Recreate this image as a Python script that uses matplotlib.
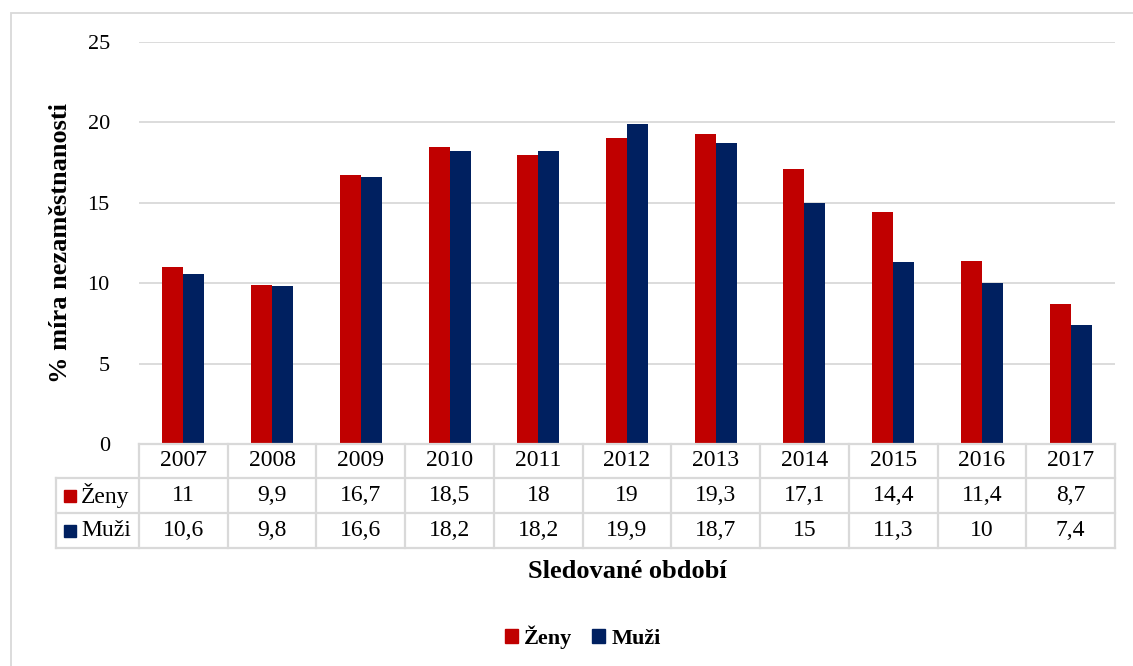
import matplotlib
matplotlib.use("Agg")
import matplotlib.pyplot as plt
import matplotlib.transforms as mtransforms
from matplotlib.patches import Rectangle
import numpy as np

# data
years = ["2007", "2008", "2009", "2010", "2011", "2012", "2013", "2014", "2015", "2016", "2017"]
zeny = [11, 9.9, 16.7, 18.5, 18, 19, 19.3, 17.1, 14.4, 11.4, 8.7]
muzi = [10.6, 9.8, 16.6, 18.2, 18.2, 19.9, 18.7, 15, 11.3, 10, 7.4]
series_names = ["Ženy", "Muži"]
yticks = [0, 5, 10, 15, 20, 25]

RED = "#C00000"
NAVY = "#002060"
GRID = "#D9D9D9"

plt.rcParams["font.family"] = ["Liberation Serif", "DejaVu Serif"]

W, H = 1133, 666
fig = plt.figure(figsize=(W / 100, H / 100), dpi=100)

# outer chart border (light grey, open on the right/bottom)
fig.patches.append(Rectangle((11 / W, -0.2), 2, 1.2 - 13 / H, transform=fig.transFigure,
                             fill=False, edgecolor=GRID, lw=1.3))

ax = fig.add_axes([139 / W, 1 - 444 / H, (1115 - 139) / W, (444 - 42) / H])

x = np.arange(len(years))
bw = 0.237
ax.bar(x - bw / 2, zeny, bw, color=RED, zorder=3)
ax.bar(x + bw / 2, muzi, bw, color=NAVY, zorder=3)

ax.set_xlim(-0.5, len(years) - 0.5)
ax.set_ylim(0, 25)
ax.set_yticks(yticks)
ax.set_yticklabels([str(v) for v in yticks], fontsize=16)
ax.tick_params(axis="y", length=0, pad=21)
ax.set_xticks([])
for s in ax.spines.values():
    s.set_visible(False)
ax.yaxis.grid(True, color=GRID, lw=1.3, zorder=0)

# data table under the axis
tr = mtransforms.blended_transform_factory(ax.transData, ax.transAxes)
ppx = 402.0  # axes height in px
rows = [0, -34 / ppx, -69 / ppx, -104 / ppx]
label_left = -0.5 - (139 - 56) / 88.7
right = len(years) - 0.5
lkw = dict(color=GRID, lw=1.6, transform=tr, clip_on=False, zorder=4, solid_capstyle="projecting")

ax.plot([-0.5, right], [rows[0], rows[0]], **lkw)
for r in rows[1:]:
    ax.plot([label_left, right], [r, r], **lkw)
for i in range(len(years) + 1):
    ax.plot([i - 0.5, i - 0.5], [rows[0], rows[3]], **lkw)
ax.plot([label_left, label_left], [rows[1], rows[3]], **lkw)

TFS = 17
ymid = [(rows[k] + rows[k + 1]) / 2 for k in range(3)]
for i, yr in enumerate(years):
    ax.text(i, ymid[0], yr, transform=tr, ha="center", va="center", fontsize=TFS)
    ax.text(i, ymid[1], f"{zeny[i]:g}".replace(".", ","), transform=tr,
            ha="center", va="center", fontsize=TFS)
    ax.text(i, ymid[2], f"{muzi[i]:g}".replace(".", ","), transform=tr,
            ha="center", va="center", fontsize=TFS)

sq_w = 12 / 88.7
sq_h = 12 / ppx
for k, (name, col) in enumerate(zip(series_names, [RED, NAVY])):
    yc = ymid[k + 1]
    ax.add_patch(Rectangle((label_left + 8 / 88.7, yc - sq_h / 2), sq_w, sq_h,
                           transform=tr, color=col, clip_on=False, zorder=5))
    ax.text(label_left + 25 / 88.7, yc, name, transform=tr, ha="left", va="center", fontsize=TFS)

# axis titles
fig.text(61 / W, 1 - 243 / H, "% míra nezaměstnanosti", rotation=90, ha="center", va="center",
         fontsize=19, fontweight="bold")
fig.text(627 / W, 1 - 572 / H, "Sledované období", ha="center", va="center",
         fontsize=19, fontweight="bold")

# bottom legend
handles = [Rectangle((0, 0), 1, 1, color=RED), Rectangle((0, 0), 1, 1, color=NAVY)]
fig.legend(handles, series_names, loc="center", bbox_to_anchor=(583 / W, 1 - 637 / H), ncol=2,
           frameon=False, handlelength=0.55, handleheight=0.55, handletextpad=0.3,
           columnspacing=0.9, prop={"size": 16, "weight": "bold"})

fig.savefig("out.png", dpi=100)
